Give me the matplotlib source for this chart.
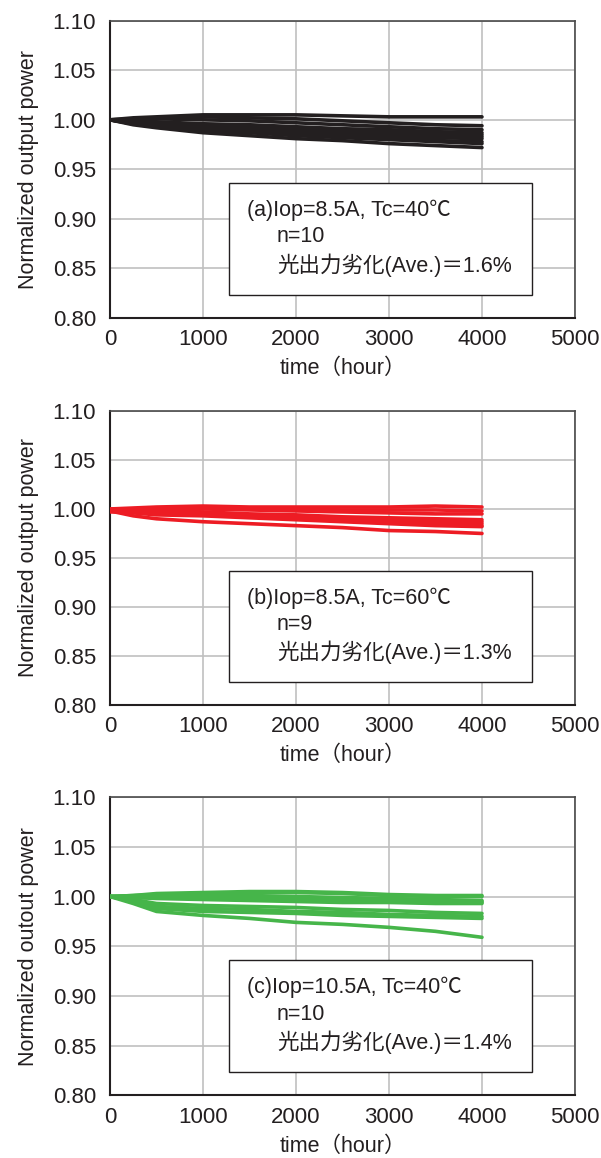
import matplotlib
matplotlib.use("Agg")
import matplotlib.pyplot as plt
from matplotlib.patches import Rectangle

plt.rcParams['font.family'] = ['Liberation Sans', 'Noto Sans CJK JP', 'DejaVu Sans']

hours = [0, 250, 500, 1000, 1500, 2000, 2500, 3000, 3500, 4000]

# (a) Iop=8.5A, Tc=40C, n=10
curves_a = [
    [1.000, 1.002, 1.003, 1.005, 1.005, 1.005, 1.004, 1.003, 1.003, 1.003],
    [1.000, 1.001, 1.002, 1.003, 1.002, 1.001, 0.999, 0.997, 0.995, 0.994],
    [1.000, 1.000, 1.001, 1.000, 0.999, 0.997, 0.995, 0.993, 0.991, 0.990],
    [1.000, 0.999, 0.998, 0.996, 0.995, 0.993, 0.991, 0.990, 0.988, 0.987],
    [1.000, 0.998, 0.997, 0.995, 0.993, 0.991, 0.989, 0.988, 0.986, 0.985],
    [1.000, 0.997, 0.996, 0.993, 0.991, 0.989, 0.987, 0.986, 0.984, 0.983],
    [1.000, 0.997, 0.995, 0.992, 0.990, 0.988, 0.986, 0.984, 0.982, 0.981],
    [1.000, 0.996, 0.994, 0.990, 0.988, 0.986, 0.984, 0.982, 0.979, 0.978],
    [1.000, 0.996, 0.993, 0.989, 0.987, 0.984, 0.982, 0.980, 0.978, 0.976],
    [1.000, 0.995, 0.992, 0.987, 0.984, 0.981, 0.979, 0.976, 0.974, 0.972],
]

# (b) Iop=8.5A, Tc=60C, n=9
curves_b = [
    [1.000, 1.001, 1.002, 1.003, 1.002, 1.002, 1.002, 1.002, 1.003, 1.002],
    [0.999, 1.000, 1.001, 1.001, 1.001, 1.000, 0.999, 0.999, 0.999, 0.998],
    [0.999, 1.000, 1.000, 1.000, 0.999, 0.998, 0.997, 0.996, 0.995, 0.995],
    [1.000, 0.999, 0.998, 0.997, 0.995, 0.994, 0.992, 0.991, 0.990, 0.989],
    [0.998, 0.998, 0.998, 0.996, 0.994, 0.992, 0.991, 0.989, 0.988, 0.987],
    [0.999, 0.998, 0.997, 0.995, 0.993, 0.991, 0.989, 0.987, 0.986, 0.985],
    [0.997, 0.997, 0.996, 0.994, 0.992, 0.990, 0.988, 0.986, 0.984, 0.983],
    [0.998, 0.996, 0.994, 0.993, 0.991, 0.989, 0.987, 0.985, 0.983, 0.982],
    [0.998, 0.993, 0.990, 0.987, 0.985, 0.983, 0.981, 0.978, 0.977, 0.975],
]

# (c) Iop=10.5A, Tc=40C, n=10
curves_c = [
    [1.000, 1.001, 1.003, 1.004, 1.005, 1.005, 1.004, 1.002, 1.001, 1.001],
    [1.000, 1.001, 1.002, 1.003, 1.004, 1.004, 1.003, 1.001, 1.000, 1.000],
    [1.000, 1.000, 1.001, 1.001, 1.001, 1.000, 0.999, 0.998, 0.997, 0.996],
    [1.000, 1.000, 1.000, 1.000, 0.999, 0.999, 0.998, 0.997, 0.996, 0.995],
    [1.000, 0.999, 0.999, 0.998, 0.998, 0.997, 0.996, 0.995, 0.994, 0.994],
    [1.000, 0.999, 0.998, 0.997, 0.996, 0.995, 0.994, 0.994, 0.993, 0.993],
    [1.000, 0.997, 0.993, 0.991, 0.990, 0.989, 0.987, 0.986, 0.984, 0.983],
    [1.000, 0.996, 0.990, 0.988, 0.987, 0.985, 0.984, 0.982, 0.981, 0.980],
    [1.000, 0.995, 0.988, 0.985, 0.984, 0.983, 0.981, 0.980, 0.979, 0.978],
    [1.000, 0.993, 0.985, 0.981, 0.978, 0.974, 0.972, 0.969, 0.965, 0.959],
]

panels = [
    (curves_a, '#231f20', 'Normalized output power',
     ['(a)Iop=8.5A, Tc=40℃', 'n=10', '光出力劣化(Ave.)＝1.6%']),
    (curves_b, '#ed1c24', 'Normalized output power',
     ['(b)Iop=8.5A, Tc=60℃', 'n=9', '光出力劣化(Ave.)＝1.3%']),
    (curves_c, '#46b54a', 'Normalized outout power',
     ['(c)Iop=10.5A, Tc=40℃', 'n=10', '光出力劣化(Ave.)＝1.4%']),
]

xticks = [0, 1000, 2000, 3000, 4000, 5000]
yticks = [0.80, 0.85, 0.90, 0.95, 1.00, 1.05, 1.10]

fig = plt.figure(figsize=(6.01, 11.58), dpi=100)
positions = [
    [0.183, 0.7254, 0.7737, 0.2567],
    [0.183, 0.3912, 0.7737, 0.2539],
    [0.183, 0.0540, 0.7737, 0.2577],
]

for pos, (curves, color, ylabel, lines) in zip(positions, panels):
    ax = fig.add_axes(pos)
    for c in curves:
        ax.plot(hours, c, color=color, lw=2.6, solid_capstyle='round', zorder=3)
    ax.set_xlim(0, 5000)
    ax.set_ylim(0.80, 1.10)
    ax.set_xticks(xticks)
    ax.set_yticks(yticks)
    ax.set_yticklabels([f'{v:.2f}' for v in yticks])
    ax.tick_params(length=0, labelsize=16, colors='#231f20')
    ax.tick_params(axis='x', pad=8)
    ax.tick_params(axis='y', pad=10)
    ax.grid(True, color='#c0c0c0', lw=1.2, zorder=0)
    for side in ['left', 'bottom']:
        ax.spines[side].set_color('#231f20')
        ax.spines[side].set_linewidth(1.5)
    for side in ['top', 'right']:
        ax.spines[side].set_color('#4a4a4a')
        ax.spines[side].set_linewidth(1.2)
    ax.set_xlabel('time（hour）', fontsize=15.5, color='#231f20', labelpad=6)
    ax.set_ylabel(ylabel, fontsize=15.5, color='#231f20', labelpad=10)

    box = Rectangle((0.256, 0.078), 0.652, 0.377, transform=ax.transAxes,
                    facecolor='white', edgecolor='#231f20', lw=1.0, zorder=5)
    ax.add_patch(box)
    ax.text(0.295, 0.363, lines[0], transform=ax.transAxes, fontsize=15.5,
            va='center', ha='left', color='#231f20', zorder=6)
    ax.text(0.359, 0.273, lines[1], transform=ax.transAxes, fontsize=15.5,
            va='center', ha='left', color='#231f20', zorder=6)
    ax.text(0.359, 0.178, lines[2], transform=ax.transAxes, fontsize=15.5,
            va='center', ha='left', color='#231f20', zorder=6)

fig.savefig('out.png', dpi=100)
